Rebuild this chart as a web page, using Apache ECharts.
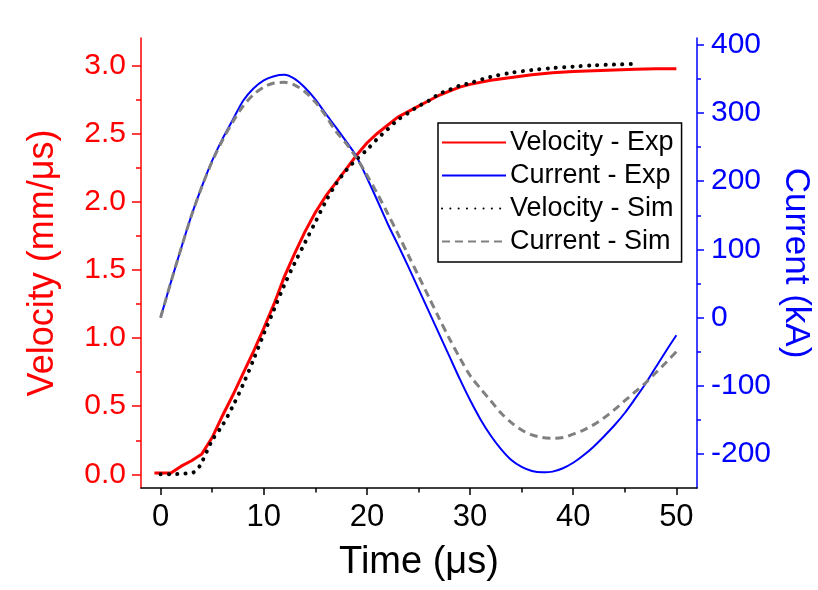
<!DOCTYPE html>
<html>
<head>
<meta charset="utf-8">
<script src="https://cdn.jsdelivr.net/npm/echarts@6/dist/echarts.min.js"></script>
<style>
    html, body { margin: 0; padding: 0; background: #fff; }
    #chart { width: 818px; height: 590px; }
</style>
</head>
<body>
<div id="chart"></div>
<script>
// time axis (us) for the experimental velocity
const tVelExp = [-0.6, 0, 1, 2, 3, 4, 5, 6, 7, 8, 9, 10, 11, 12, 13, 14, 15, 16, 17, 18, 19, 20,
    21, 22, 23, 24, 25, 26, 27, 28, 29, 30, 32, 34, 36, 38, 40, 42, 44, 46, 48, 50];
const velExp = [0.01, 0.01, 0.01, 0.06, 0.10, 0.15, 0.27, 0.43, 0.58, 0.74, 0.90, 1.07, 1.25, 1.45, 1.62, 1.78, 1.92, 2.04, 2.14, 2.24, 2.34, 2.43,
    2.50, 2.56, 2.62, 2.66, 2.70, 2.74, 2.78, 2.81, 2.84, 2.86, 2.89, 2.91, 2.93, 2.945, 2.955, 2.96, 2.965, 2.97, 2.975, 2.975];

// simulated velocity, stops at ~46 us
const tVelSim = [0, 1, 2, 3, 3.5, 4, 5, 6, 7, 8, 9, 10, 11, 12, 13, 14, 15, 16, 17, 18, 19, 20,
    21, 22, 23, 24, 25, 26, 27, 28, 29, 30, 32, 34, 36, 38, 40, 42, 44, 46];
const velSim = [0, 0, 0.005, 0.01, 0.03, 0.09, 0.25, 0.36, 0.50, 0.66, 0.84, 1.03, 1.21, 1.39, 1.55, 1.70, 1.85, 2.00, 2.13, 2.23, 2.31, 2.38,
    2.46, 2.53, 2.60, 2.65, 2.70, 2.74, 2.79, 2.82, 2.85, 2.87, 2.915, 2.945, 2.965, 2.98, 2.99, 3.0, 3.005, 3.01];

// current, one value per us from 0 to 50
const tCur = [0, 1, 2, 3, 4, 5, 6, 7, 8, 9, 10, 11, 12, 13, 14, 15, 16, 17, 18, 19, 20,
    21, 22, 23, 24, 25, 26, 27, 28, 29, 30, 31, 32, 33, 34, 35, 36, 37, 38, 39, 40,
    41, 42, 43, 44, 45, 46, 47, 48, 49, 50];
const curExp = [0, 52, 102, 150, 192, 230, 262, 290, 318, 336, 348, 354, 356, 350, 337, 320, 299, 279, 258, 236, 205,
    172, 138, 107, 75, 42, 9, -24, -57, -90, -121, -149, -173, -193, -209, -219, -225, -227, -226, -221, -213,
    -202, -189, -174, -158, -140, -119, -97, -73, -49, -26];
const curSim = [0, 52, 102, 150, 192, 229, 260, 287, 310, 327, 338, 344, 345, 341, 331, 316, 296, 273, 255, 234, 209,
    182, 153, 123, 92, 61, 30, -1, -31, -59, -85, -104, -122, -140, -154, -165, -172, -176, -177, -176, -171,
    -165, -157, -147, -135, -122, -109, -96, -81, -66, -50];

const xTicks = [0, 10, 20, 30, 40, 50];
const xMinor = [5, 15, 25, 35, 45];
const velTicks = [0, 0.5, 1.0, 1.5, 2.0, 2.5, 3.0];
const velMinor = [0.25, 0.75, 1.25, 1.75, 2.25, 2.75];
const curTicks = [-200, -100, 0, 100, 200, 300, 400];
const curMinor = [-150, -50, 50, 150, 250, 350];

const font = "'Liberation Sans', Arial, sans-serif";

function pairs(xs, ys) {
    return xs.map((x, i) => [x, ys[i]]);
}

let myChart = echarts.init(document.getElementById('chart'));

let option = {
    animation: false,
    textStyle: { fontFamily: font },
    grid: { left: 141, right: 121, top: 38, bottom: 102, containLabel: false, outerBoundsMode: 'none' },
    legend: {
        orient: 'vertical',
        left: 438,
        top: 123,
        padding: [6, 8, 7, 3],
        itemGap: 6,
        itemWidth: 64,
        itemHeight: 14,
        borderColor: '#000',
        borderWidth: 1.5,
        itemStyle: { color: 'transparent', borderWidth: 0, opacity: 0 },
        textStyle: { fontSize: 27, color: '#000', fontFamily: font, padding: [0, 0, 0, -1] },
        data: ['Velocity - Exp', 'Current - Exp', 'Velocity - Sim', 'Current - Sim']
    },
    xAxis: [
        {
            type: 'value', min: -1.9, max: 52, position: 'bottom',
            name: 'Time (μs)', nameLocation: 'middle', nameGap: 56,
            nameTextStyle: { fontSize: 38, color: '#000', fontFamily: font },
            axisLine: { onZero: false, lineStyle: { color: '#000', width: 1.5 } },
            axisTick: { length: 7, customValues: xTicks, lineStyle: { color: '#000', width: 1.5 } },
            axisLabel: { customValues: xTicks, fontSize: 31, color: '#000', margin: 14, fontFamily: font },
            splitLine: { show: false }
        },
        {
            type: 'value', min: -1.9, max: 52, position: 'bottom',
            axisLine: { show: false, onZero: false },
            axisTick: { length: 4.5, customValues: xMinor, lineStyle: { color: '#000', width: 1.5 } },
            axisLabel: { show: false },
            splitLine: { show: false }
        }
    ],
    yAxis: [
        {
            type: 'value', min: -0.1, max: 3.2, position: 'left',
            name: 'Velocity (mm/μs)', nameLocation: 'middle', nameGap: 80, nameMoveOverlap: false,
            nameTextStyle: { fontSize: 36, color: '#ff0000', fontFamily: font },
            axisLine: { show: true, onZero: false, lineStyle: { color: '#ff0000', width: 1.5 } },
            axisTick: { length: 9, customValues: velTicks, lineStyle: { color: '#ff0000', width: 1.5 } },
            axisLabel: {
                customValues: velTicks, fontSize: 30, color: '#ff0000', margin: 15, fontFamily: font,
                formatter: v => v.toFixed(1)
            },
            splitLine: { show: false }
        },
        {
            type: 'value', min: -0.1, max: 3.2, position: 'left',
            axisLine: { show: false, onZero: false },
            axisTick: { length: 5, customValues: velMinor, lineStyle: { color: '#ff0000', width: 1.5 } },
            axisLabel: { show: false },
            splitLine: { show: false }
        },
        {
            type: 'value', min: -250, max: 410, position: 'right',
            name: 'Current (kA)', nameLocation: 'middle', nameGap: 81, nameRotate: -90, nameMoveOverlap: false,
            nameTextStyle: { fontSize: 35, color: '#0000ff', fontFamily: font },
            axisLine: { show: true, onZero: false, lineStyle: { color: '#0000ff', width: 1.5 } },
            axisTick: { length: 7, customValues: curTicks, lineStyle: { color: '#0000ff', width: 1.5 } },
            axisLabel: { customValues: curTicks, fontSize: 30, color: '#0000ff', margin: 14, fontFamily: font },
            splitLine: { show: false }
        },
        {
            type: 'value', min: -250, max: 410, position: 'right',
            axisLine: { show: false, onZero: false },
            axisTick: { length: 4, customValues: curMinor, lineStyle: { color: '#0000ff', width: 1.5 } },
            axisLabel: { show: false },
            splitLine: { show: false }
        }
    ],
    series: [
        {
            name: 'Velocity - Exp', type: 'line', yAxisIndex: 0, symbol: 'none',
            lineStyle: { color: '#ff0000', width: 3 }, itemStyle: { color: '#ff0000' },
            data: pairs(tVelExp, velExp)
        },
        {
            name: 'Current - Exp', type: 'line', yAxisIndex: 2, symbol: 'none', smooth: 0.3,
            lineStyle: { color: '#0000ff', width: 2 }, itemStyle: { color: '#0000ff' },
            data: pairs(tCur, curExp)
        },
        {
            name: 'Velocity - Sim', type: 'line', yAxisIndex: 0, symbol: 'none', smooth: 0.3,
            lineStyle: { color: '#000', width: 4, type: [0.1, 8.2], cap: 'round' }, itemStyle: { color: '#000' },
            data: pairs(tVelSim, velSim)
        },
        {
            name: 'Current - Sim', type: 'line', yAxisIndex: 2, symbol: 'none', smooth: 0.3,
            lineStyle: { color: '#808080', width: 3, type: [8, 5] }, itemStyle: { color: '#808080' },
            data: pairs(tCur, curSim)
        }
    ]
};
myChart.setOption(option);
</script>
</body>
</html>
